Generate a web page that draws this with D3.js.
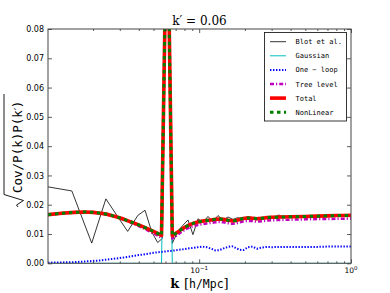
<!DOCTYPE html>
<html>
<head>
<meta charset="utf-8">
<script src="https://cdn.jsdelivr.net/npm/d3@7"></script>
<style>
    body { margin: 0; background: #fff; }
    svg text { fill: #000; }
</style>
</head>
<body>
<div id="chart"></div>
<script>
// k grid of the model curves (h/Mpc)
const kModel = [0.0101, 0.0125, 0.015, 0.0175, 0.02, 0.0225, 0.025, 0.028, 0.031, 0.034, 0.037, 0.04,
    0.044, 0.048, 0.052, 0.0565, 0.0615, 0.0665, 0.071, 0.076, 0.081, 0.086, 0.092, 0.098, 0.105, 0.112,
    0.12, 0.128, 0.136, 0.145, 0.155, 0.165, 0.175, 0.185, 0.195, 0.21, 0.225, 0.24, 0.26, 0.28, 0.3,
    0.35, 0.4, 0.5, 0.6, 0.7, 0.8, 0.9, 1.0]

const gaussian = [0, 0, 0, 0, 0, 0, 0, 0, 0, 0, 0, 0, 0, 0, 0, 0, 0.13, 0, 0, 0, 0, 0, 0, 0, 0, 0,
    0, 0, 0, 0, 0, 0, 0, 0, 0, 0, 0, 0, 0, 0, 0, 0, 0, 0, 0, 0, 0, 0, 0]

const oneLoop = [0.0002, 0.0003, 0.0004, 0.0006, 0.0008, 0.0010, 0.0013, 0.0016, 0.0019, 0.0022, 0.0025,
    0.0028, 0.0031, 0.0034, 0.0037, 0.0039, 0.0041, 0.0043, 0.0045, 0.0047, 0.0049, 0.0051, 0.0053, 0.0055,
    0.0057, 0.0055, 0.0050, 0.0044, 0.0045, 0.0051, 0.0056, 0.0058, 0.0052, 0.0046, 0.0045, 0.0055, 0.0057,
    0.0050, 0.0054, 0.0056, 0.0055, 0.0056, 0.0056, 0.0056, 0.0056, 0.0057, 0.0057, 0.0057, 0.0057]

const treeLevel = [0.0166, 0.0171, 0.0174, 0.0175, 0.0173, 0.0170, 0.0166, 0.0159, 0.0151, 0.0143, 0.0135,
    0.0127, 0.0117, 0.0107, 0.0098, 0.0087, 0.13, 0.0085, 0.0095, 0.0106, 0.0115, 0.0122, 0.0127, 0.0131,
    0.0134, 0.0136, 0.0138, 0.0140, 0.0141, 0.0140, 0.0137, 0.0135, 0.0136, 0.0140, 0.0143, 0.0145, 0.0144,
    0.0142, 0.0144, 0.0146, 0.0147, 0.0148, 0.0149, 0.0150, 0.0151, 0.0151, 0.0152, 0.0152, 0.0153]

const total = [0.0166, 0.0171, 0.0174, 0.0175, 0.0174, 0.0171, 0.0167, 0.0160, 0.0153, 0.0145, 0.0138,
    0.0131, 0.0122, 0.0113, 0.0105, 0.0095, 0.13, 0.0094, 0.0104, 0.0115, 0.0124, 0.0131, 0.0137, 0.0141,
    0.0144, 0.0146, 0.0148, 0.0150, 0.0151, 0.0150, 0.0147, 0.0145, 0.0146, 0.0150, 0.0153, 0.0155, 0.0154,
    0.0152, 0.0154, 0.0156, 0.0157, 0.0158, 0.0159, 0.0160, 0.0161, 0.0162, 0.0163, 0.0163, 0.0164]

// NonLinear sits right on top of Total in the picture
const nonLinear = total.slice()

// Blot et al. simulation points
const kBlot = [0.0101, 0.0145, 0.0196, 0.0243, 0.029, 0.0338, 0.0395, 0.044, 0.0487, 0.0533, 0.0572,
    0.0615, 0.0665, 0.0725, 0.0782, 0.0844, 0.091, 0.0982, 0.1059, 0.1143, 0.1233, 0.133, 0.1435, 0.1548,
    0.167, 0.18, 0.195, 0.21, 0.227, 0.245, 0.265, 0.285, 0.31, 0.335, 0.36, 0.39]
const blot = [0.0261, 0.0247, 0.0069, 0.0220, 0.0160, 0.0109, 0.0164, 0.0181, 0.0107, 0.0071, 0.0085,
    0.13, 0.0068, 0.0110, 0.0130, 0.0148, 0.0098, 0.0152, 0.0140, 0.0160, 0.0142, 0.0163, 0.0148, 0.0158,
    0.0150, 0.0156, 0.0149, 0.0155, 0.0152, 0.0157, 0.0153, 0.0158, 0.0156, 0.0165, 0.0157, 0.0159]

const yTicks = [0, 0.01, 0.02, 0.03, 0.04, 0.05, 0.06, 0.07, 0.08]
const xMajor = [0.1, 1]
const xMajorLabels = [['10', '−1'], ['10', '0']]
const xMinor = [0.02, 0.03, 0.04, 0.05, 0.06, 0.07, 0.08, 0.09, 0.2, 0.3, 0.4, 0.5, 0.6, 0.7, 0.8, 0.9]
const seriesNames = ['Blot et al.', 'Gaussian', 'One − loop', 'Tree level', 'Total', 'NonLinear']

class CovPlot {
    constructor(_config) {
        this.config = {
            parentElement: _config.parentElement,
            containerWidth: _config.containerWidth,
            containerHeight: _config.containerHeight,
            margin: {top: 29, right: 39, bottom: 29.7, left: 48}
        }
        this.initVis()
    }

    initVis() {
        let vis = this
        const m = vis.config.margin
        vis.width = vis.config.containerWidth - m.left - m.right
        vis.height = vis.config.containerHeight - m.top - m.bottom

        vis.svg = d3.select(vis.config.parentElement)
            .append('svg')
            .attr('width', vis.config.containerWidth)
            .attr('height', vis.config.containerHeight)

        vis.chart = vis.svg.append('g')
            .attr('transform', `translate(${m.left},${m.top})`)

        vis.x = d3.scaleLog().domain([0.0101, 1]).range([0, vis.width])
        vis.y = d3.scaleLinear().domain([0, 0.08]).range([vis.height, 0])

        vis.svg.append('clipPath').attr('id', 'plot-clip')
            .append('rect')
            .attr('width', vis.width)
            .attr('height', vis.height)

        vis.series = [
            {k: kBlot, v: blot, color: '#000', width: 0.8, dash: null},
            {k: kModel, v: gaussian, color: '#00bfbf', width: 1, dash: null},
            {k: kModel, v: oneLoop, color: '#0000ff', width: 2, dash: '1.4,1.6'},
            {k: kModel, v: treeLevel, color: '#bf00bf', width: 2.5, dash: '4,2,1.2,2'},
            {k: kModel, v: total, color: '#ff0000', width: 3.6, dash: null},
            {k: kModel, v: nonLinear, color: '#008000', width: 3, dash: '3.5,3.5'}
        ]

        vis.renderVis()
        vis.renderAxes()
        vis.renderLegend()
    }

    renderVis() {
        let vis = this
        const line = d3.line()
            .x(d => vis.x(d[0]))
            .y(d => vis.y(d[1]))

        vis.chart.append('g')
            .attr('clip-path', 'url(#plot-clip)')
            .selectAll('.series')
            .data(vis.series)
            .join('path')
            .attr('class', 'series')
            .attr('fill', 'none')
            .attr('stroke', d => d.color)
            .attr('stroke-width', d => d.width)
            .attr('stroke-dasharray', d => d.dash)
            .attr('stroke-linejoin', 'round')
            .attr('d', d => line(d.k.map((k, i) => [k, d.v[i]])))
    }

    renderAxes() {
        let vis = this
        const tickFont = g => g.selectAll('text')
            .attr('font-family', 'DejaVu Sans')
            .attr('font-size', 8)
            .attr('fill', '#000')

        vis.chart.append('g')
            .call(d3.axisLeft(vis.y).tickValues(yTicks).tickSize(-4).tickPadding(4).tickFormat(d3.format('.2f')))
            .call(tickFont)
        vis.chart.append('g')
            .attr('transform', `translate(${vis.width},0)`)
            .call(d3.axisRight(vis.y).tickValues(yTicks).tickSize(-4).tickFormat(''))

        vis.chart.append('g')
            .attr('transform', `translate(0,${vis.height})`)
            .call(d3.axisBottom(vis.x).tickValues(xMajor).tickSize(-4).tickFormat(''))
        vis.chart.append('g')
            .attr('transform', `translate(0,${vis.height})`)
            .call(d3.axisBottom(vis.x).tickValues(xMinor).tickSize(-2).tickFormat(''))
        vis.chart.append('g')
            .call(d3.axisTop(vis.x).tickValues(xMajor).tickSize(-4).tickFormat(''))
        vis.chart.append('g')
            .call(d3.axisTop(vis.x).tickValues(xMinor).tickSize(-2).tickFormat(''))

        vis.chart.selectAll('.domain').remove()
        vis.chart.selectAll('.tick line').attr('stroke', '#333').attr('stroke-width', 0.8)

        vis.chart.append('rect')
            .attr('width', vis.width)
            .attr('height', vis.height)
            .attr('fill', 'none')
            .attr('stroke', '#444')
            .attr('stroke-width', 1)

        // 10^n labels under the major ticks
        const lab = vis.chart.selectAll('.xlab')
            .data(xMajor)
            .join('text')
            .attr('class', 'xlab')
            .attr('x', d => vis.x(d))
            .attr('y', vis.height + 9.5)
            .attr('text-anchor', 'middle')
            .attr('font-family', 'DejaVu Sans')
            .attr('font-size', 7.5)
        lab.append('tspan').text((d, i) => xMajorLabels[i][0])
        lab.append('tspan')
            .attr('dy', -3.2)
            .attr('font-size', 5.5)
            .text((d, i) => xMajorLabels[i][1])

        // title
        vis.chart.append('text')
            .attr('x', vis.width / 2)
            .attr('y', -4)
            .attr('text-anchor', 'middle')
            .attr('font-family', 'DejaVu Serif')
            .attr('font-size', 12)
            .text('k′ = 0.06')

        // x label
        const xl = vis.chart.append('text')
            .attr('x', vis.width / 2)
            .attr('y', vis.height + 25)
            .attr('text-anchor', 'middle')
            .attr('font-family', 'DejaVu Serif')
            .attr('font-size', 13)
        xl.append('tspan').attr('font-weight', 'bold').text('k ')
        xl.append('tspan').text('[')
        xl.append('tspan').attr('font-family', 'DejaVu Sans Mono').attr('font-size', 11.5).text('h/Mpc')
        xl.append('tspan').text(']')

        // y label with square root sign
        const yl = vis.svg.append('g')
            .attr('transform', 'translate(22,145) rotate(-90)')
        const yt = yl.append('text')
            .attr('x', -48)
            .attr('y', 0)
            .attr('font-family', 'DejaVu Sans Mono')
            .attr('font-size', 12.5)
        yt.append('tspan').text('Cov/P(k)P(k')
        yt.append('tspan').attr('font-family', 'DejaVu Sans').attr('font-size', 11).text('′')
        yt.append('tspan').attr('dx', -0.5).text(')')
        yl.append('path')
            .attr('d', 'M-62,-4 L-60,-5.5 L-55.5,1.5 L-49.5,-18 L51,-18')
            .attr('fill', 'none')
            .attr('stroke', '#000')
            .attr('stroke-width', 0.9)
    }

    renderLegend() {
        let vis = this
        const lg = vis.svg.append('g').attr('transform', 'translate(264.5,32.5)')
        lg.append('rect')
            .attr('width', 82)
            .attr('height', 88.5)
            .attr('fill', '#fff')
            .attr('stroke', '#222')
            .attr('stroke-width', 0.9)

        const item = lg.selectAll('.item')
            .data(vis.series)
            .join('g')
            .attr('class', 'item')
            .attr('transform', (d, i) => `translate(0,${9.2 + i * 14.1})`)
        item.append('line')
            .attr('x1', 5.5).attr('x2', 21.5)
            .attr('stroke', d => d.color)
            .attr('stroke-width', d => d.width)
            .attr('stroke-dasharray', d => d.dash)
        item.append('text')
            .attr('x', 31)
            .attr('y', 2.5)
            .attr('font-family', 'DejaVu Sans Mono')
            .attr('font-size', 7)
            .text((d, i) => seriesNames[i])
    }
}

new CovPlot({parentElement: '#chart', containerWidth: 390, containerHeight: 293})
</script>
</body>
</html>
